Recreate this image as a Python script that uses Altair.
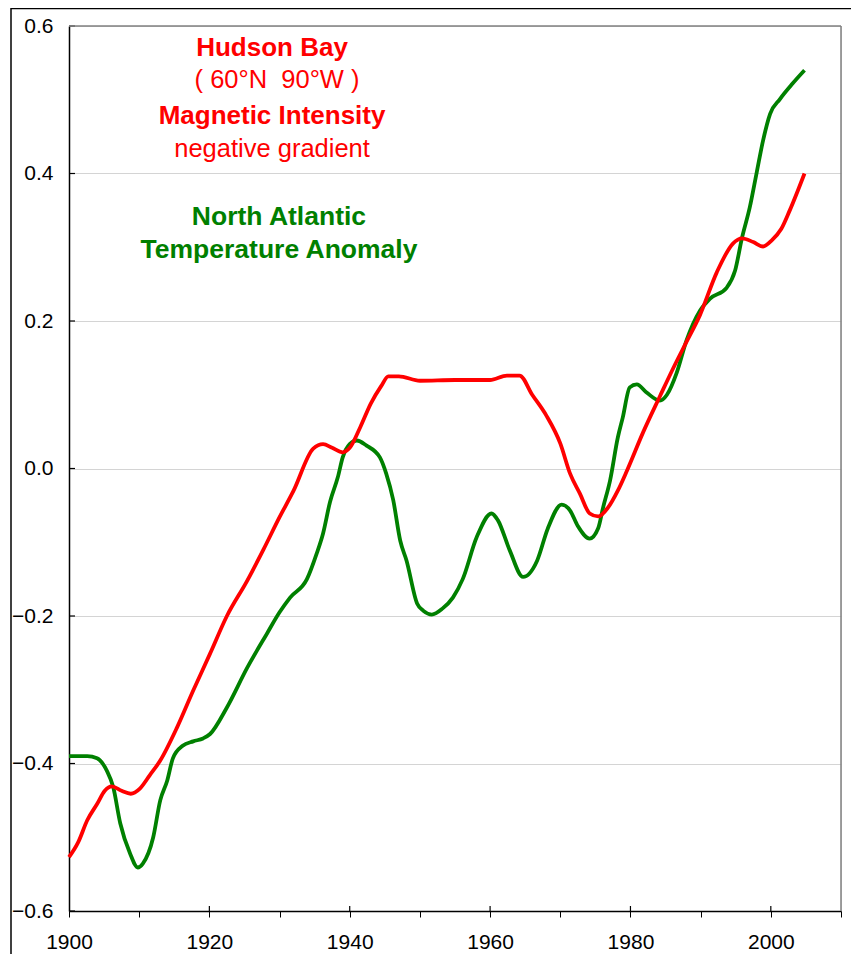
import altair as alt
import pandas as pd

# Hudson Bay magnetic intensity (negative gradient)
hb_years = [1900.0, 1901.3, 1902.6, 1904.0, 1905.1, 1906.1, 1907.5, 1908.8, 1910.1, 1911.5,
            1913.0, 1915.4, 1917.7, 1920.1, 1922.5, 1925.4, 1927.7, 1930.0, 1932.0, 1934.8,
            1936.2, 1937.5, 1939.0, 1940.0, 1941.5, 1943.0, 1944.5, 1945.5, 1947.0, 1950.0,
            1955.0, 1960.0, 1962.4, 1964.2, 1966.0, 1968.0, 1970.0, 1971.4, 1972.8, 1974.2,
            1975.4, 1976.8, 1978.2, 1979.5, 1981.8, 1984.2, 1986.3, 1988.0, 1989.9, 1992.3,
            1994.6, 1995.9, 1997.5, 1998.9, 2000.1, 2001.5, 2002.7, 2004.8]
hb_vals = [-0.527, -0.507, -0.477, -0.455, -0.437, -0.431, -0.437, -0.441, -0.434, -0.416,
           -0.396, -0.351, -0.301, -0.251, -0.200, -0.152, -0.110, -0.066, -0.030, 0.027,
           0.033, 0.028, 0.022, 0.028, 0.056, 0.088, 0.112, 0.125, 0.125, 0.119,
           0.120, 0.120, 0.126, 0.126, 0.100, 0.072, 0.034, -0.007, -0.034, -0.061,
           -0.065, -0.053, -0.030, -0.003, 0.049, 0.098, 0.140, 0.172, 0.208, 0.266,
           0.305, 0.312, 0.307, 0.301, 0.309, 0.325, 0.350, 0.400]

# North Atlantic temperature anomaly
na_years = [1900.0, 1902.6, 1904.0, 1905.4, 1906.3, 1907.3, 1908.7, 1909.8, 1910.5, 1912.0,
            1913.0, 1914.0, 1914.8, 1916.2, 1917.7, 1919.1, 1920.1, 1922.5, 1925.4, 1928.2,
            1930.0, 1931.5, 1933.9, 1935.3, 1936.2, 1937.2, 1938.3, 1939.0, 1940.0, 1941.0,
            1942.4, 1944.3, 1945.2, 1946.2, 1947.2, 1948.1, 1949.6, 1950.5, 1951.7, 1953.2,
            1954.7, 1956.1, 1958.1, 1960.2, 1961.1, 1962.8, 1964.7, 1966.7, 1968.2, 1970.2,
            1971.4, 1972.5, 1974.2, 1975.4, 1976.1, 1977.1, 1978.2, 1978.9, 1979.9, 1980.9,
            1982.3, 1984.2, 1985.2, 1986.6, 1988.0, 1989.9, 1991.3, 1993.7, 1994.9, 1995.9,
            1997.0, 1998.0, 1998.9, 1999.9, 2001.3, 2003.1, 2004.8]
na_vals = [-0.390, -0.390, -0.393, -0.410, -0.432, -0.481, -0.522, -0.541, -0.536, -0.500,
           -0.450, -0.423, -0.393, -0.376, -0.370, -0.366, -0.360, -0.324, -0.270, -0.224,
           -0.195, -0.175, -0.150, -0.115, -0.088, -0.045, -0.012, 0.015, 0.033, 0.038,
           0.031, 0.015, -0.007, -0.043, -0.098, -0.125, -0.183, -0.193, -0.198, -0.190,
           -0.175, -0.150, -0.093, -0.061, -0.070, -0.111, -0.147, -0.125, -0.082, -0.049,
           -0.057, -0.078, -0.095, -0.081, -0.053, -0.016, 0.042, 0.069, 0.110, 0.114,
           0.103, 0.092, 0.100, 0.130, 0.174, 0.214, 0.230, 0.245, 0.268, 0.313,
           0.354, 0.402, 0.445, 0.481, 0.501, 0.522, 0.540]

x_ticks = list(range(1900, 2015, 5))
x_major = [1920, 1940, 1960, 1980, 2000]
y_ticks = [-0.6, -0.4, -0.2, 0.0, 0.2, 0.4, 0.6]

red_bold = ["Hudson Bay", "Magnetic Intensity"]
red_bold_x = [1928.93, 1928.93]
red_bold_y = [0.5593, 0.4671]
red_norm = ["( 60°N \u00a090°W )", "negative gradient"]
red_norm_x = [1929.64, 1928.93]
red_norm_y = [0.5159, 0.4224]
green_bold = ["North Atlantic", "Temperature Anomaly"]
green_bold_x = [1929.92, 1929.92]
green_bold_y = [0.3302, 0.2854]

FONT = "Liberation Sans"
W, H = 772, 885

hb = pd.DataFrame({"year": hb_years, "value": hb_vals})
na = pd.DataFrame({"year": na_years, "value": na_vals})

xscale = alt.Scale(domain=[1900, 2010], nice=False, zero=False)
yscale = alt.Scale(domain=[-0.6, 0.6], nice=False, zero=False)

xaxis = alt.Axis(values=x_ticks, format="d", title=None, grid=False,
                 labelExpr="datum.value % 20 == 0 ? datum.label : ''",
                 tickSize=6, tickColor="black", tickWidth=1,
                 domainColor="black", domainWidth=1.5,
                 labelFont=FONT, labelFontSize=21, labelColor="black",
                 labelPadding=14, labelFlush=False, labelOverlap=False)
yaxis = alt.Axis(values=y_ticks, format=".1f", title=None, grid=True,
                 gridColor="#d4d4d4", gridWidth=1.2,
                 tickSize=0, domainColor="black", domainWidth=1.5,
                 labelFont=FONT, labelFontSize=21, labelColor="black",
                 labelPadding=16, labelFlush=False, labelOverlap=False)

base_x = alt.X("year:Q", scale=xscale, axis=xaxis)
base_y = alt.Y("value:Q", scale=yscale, axis=yaxis)

green_line = alt.Chart(na).mark_line(color="#008000", strokeWidth=3.8,
                                     interpolate="monotone").encode(x=base_x, y=base_y)
red_line = alt.Chart(hb).mark_line(color="#ff0000", strokeWidth=3.8,
                                   interpolate="monotone").encode(
    x=alt.X("year:Q", scale=xscale), y=alt.Y("value:Q", scale=yscale))

# inward y ticks
ytick_df = pd.DataFrame({"v": y_ticks})
yticks_in = alt.Chart(ytick_df).mark_rule(color="black", strokeWidth=1.2).encode(
    y=alt.Y("v:Q", scale=yscale), x=alt.value(0), x2=alt.value(6))
# inward major x ticks
xtick_df = pd.DataFrame({"yr": x_major})
xticks_in = alt.Chart(xtick_df).mark_rule(color="black", strokeWidth=1.2).encode(
    x=alt.X("yr:Q", scale=xscale), y=alt.value(H - 5), y2=alt.value(H))

# plot border (top and right in gray)
frame_df = pd.DataFrame({"k": [0]})
top_border = alt.Chart(frame_df).mark_rule(color="#808080", strokeWidth=1.5).encode(
    x=alt.value(0), x2=alt.value(W), y=alt.value(0))
right_border = alt.Chart(frame_df).mark_rule(color="#808080", strokeWidth=1.5).encode(
    x=alt.value(W), y=alt.value(0), y2=alt.value(H))
# outer figure frame
outer_left = alt.Chart(frame_df).mark_rule(color="black", strokeWidth=1.5).encode(
    x=alt.value(-58), y=alt.value(-18), y2=alt.value(H + 60))
outer_top = alt.Chart(frame_df).mark_rule(color="black", strokeWidth=1.5).encode(
    x=alt.value(-58), x2=alt.value(W + 30), y=alt.value(-17.5))


def text_layer(texts, xs, ys, color, weight, size):
    df = pd.DataFrame({"t": texts, "x": xs, "y": ys})
    return alt.Chart(df).mark_text(color=color, font=FONT, fontWeight=weight,
                                   fontSize=size, align="center",
                                   baseline="alphabetic").encode(
        x=alt.X("x:Q", scale=xscale), y=alt.Y("y:Q", scale=yscale), text="t:N")


t1 = text_layer(red_bold, red_bold_x, red_bold_y, "#ff0000", "bold", 26)
t2 = text_layer(red_norm, red_norm_x, red_norm_y, "#ff0000", "normal", 25.5)
t3 = text_layer(green_bold, green_bold_x, green_bold_y, "#008000", "bold", 26.5)

chart = alt.layer(green_line, red_line, yticks_in, xticks_in, top_border, right_border,
                  outer_left, outer_top, t1, t2, t3).properties(
    width=W, height=H,
    autosize=alt.AutoSizeParams(type="none"),
    padding={"left": 61, "top": 18, "right": 10, "bottom": 43},
).configure_view(stroke=None).configure(background="white")

chart.save("out.html", embed_options={"renderer": "svg", "actions": False})
